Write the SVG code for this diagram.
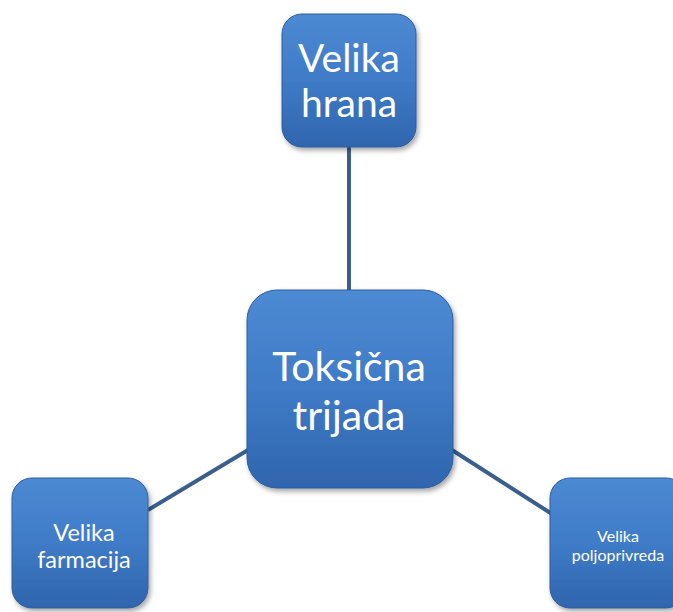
<svg xmlns="http://www.w3.org/2000/svg" width="673" height="612" viewBox="0 0 673 612">
<defs>
<linearGradient id="g" x1="0" y1="0" x2="0" y2="1">
<stop offset="0" stop-color="#4d8ad3"/>
<stop offset="0.5" stop-color="#3f7bc7"/>
<stop offset="1" stop-color="#2f65ad"/>
</linearGradient>
<filter id="sh" x="-20%" y="-20%" width="140%" height="140%">
<feDropShadow dx="2" dy="3" stdDeviation="2.5" flood-color="#000" flood-opacity="0.35"/>
</filter>
</defs>
<style>
.box{fill:url(#g);stroke:#2d5e9e;stroke-width:1;filter:url(#sh)}
.t{fill:#fff;font-family:Lato,"Open Sans","Liberation Sans",sans-serif;text-anchor:middle}
.c{stroke:#3b5f8c;stroke-width:4;fill:none}
</style>
<rect width="673" height="612" fill="#fff"/>
<g id="connectors">
<line class="c" x1="349" y1="147" x2="349" y2="291"/>
<line class="c" x1="148" y1="510" x2="248" y2="450"/>
<line class="c" x1="452" y1="450" x2="552" y2="514"/>
</g>
<g id="top">
<rect class="box" x="282" y="14" width="134" height="133" rx="20"/>
<text class="t" font-size="39"><tspan x="349" y="72">Velika</tspan><tspan x="349" y="117">hrana</tspan></text>
</g>
<g id="center">
<rect class="box" x="247" y="290" width="206" height="198" rx="30"/>
<text class="t" font-size="41"><tspan x="349" y="381">Toksična</tspan><tspan x="349" y="430">trijada</tspan></text>
</g>
<g id="left">
<rect class="box" x="12" y="478" width="136" height="130" rx="20"/>
<text class="t" font-size="23.5"><tspan x="84" y="541">Velika</tspan><tspan x="84" y="568">farmacija</tspan></text>
</g>
<g id="right">
<rect class="box" x="550" y="478" width="136" height="130" rx="20"/>
<text class="t" font-size="16"><tspan x="618" y="542">Velika</tspan><tspan x="618" y="561">poljoprivreda</tspan></text>
</g>
</svg>
